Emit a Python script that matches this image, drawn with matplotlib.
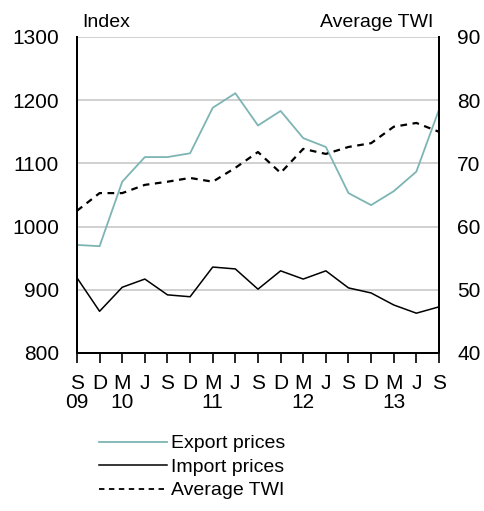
import matplotlib.pyplot as plt
from matplotlib.lines import Line2D

plt.rcParams['font.family'] = ['Liberation Sans', 'DejaVu Sans']

# Quarterly data, Sep 2009 - Sep 2013
months = ['S', 'D', 'M', 'J', 'S', 'D', 'M', 'J', 'S', 'D', 'M', 'J', 'S', 'D', 'M', 'J', 'S']
years = {0: '09', 2: '10', 6: '11', 10: '12', 14: '13'}

export_prices = [971, 969, 1071, 1110, 1110, 1116, 1188, 1211, 1160, 1183,
                 1140, 1126, 1053, 1034, 1056, 1087, 1185]
import_prices = [919, 866, 904, 917, 892, 889, 936, 933, 901, 930,
                 917, 930, 903, 895, 876, 863, 873]
average_twi = [62.5, 65.3, 65.3, 66.6, 67.1, 67.7, 67.1, 69.3, 71.8, 68.5,
               72.3, 71.5, 72.6, 73.2, 75.8, 76.4, 75.0]

teal = '#7db4b4'
fs = 15

fig = plt.figure(figsize=(4.84, 5.11), dpi=100)
ax = fig.add_axes([0.159, 0.3092, 0.748, 0.6184])
ax2 = ax.twinx()

x = list(range(len(months)))

ax.plot(x, export_prices, color=teal, lw=1.3, zorder=3)
ax.plot(x, import_prices, color='black', lw=1.1, zorder=3)
ax2.plot(x, average_twi, color='black', lw=1.6, linestyle=(0, (3, 2.5)), zorder=3)

ax.set_xlim(0, len(months) - 1)
ax.set_ylim(800, 1300)
ax2.set_ylim(40, 90)
ax.set_yticks([800, 900, 1000, 1100, 1200, 1300])
ax2.set_yticks([40, 50, 60, 70, 80, 90])

# gridlines
for v in [900, 1000, 1100, 1200, 1300]:
    ax.axhline(v, color='#c8c8c8', lw=1.2, zorder=1)

# x tick labels: month letter with year underneath
labels = [m + ('\n' + years[i] if i in years else '\n ') for i, m in enumerate(months)]
ax.set_xticks(x)
ax.set_xticklabels(labels, fontsize=fs, linespacing=1.0)
ax.tick_params(axis='x', direction='out', length=7, width=1.2, pad=8)
ax.tick_params(axis='y', length=0, labelsize=fs, pad=13)
ax2.tick_params(axis='y', length=0, labelsize=fs, pad=13)

for a in (ax, ax2):
    a.spines['top'].set_visible(False)
    for s in ['left', 'right', 'bottom']:
        a.spines[s].set_linewidth(1.4)
        a.spines[s].set_color('black')

ax.text(0.015, 1.02, 'Index', transform=ax.transAxes, fontsize=fs - 1,
        ha='left', va='bottom')
ax.text(0.985, 1.02, 'Average TWI', transform=ax.transAxes, fontsize=fs - 1,
        ha='right', va='bottom')

handles = [Line2D([], [], color=teal, lw=1.3),
           Line2D([], [], color='black', lw=1.1),
           Line2D([], [], color='black', lw=1.3, linestyle=(0, (3, 2.5)))]
fig.legend(handles, ['Export prices', 'Import prices', 'Average TWI'],
           loc='upper left', bbox_to_anchor=(0.205, 0.149), frameon=False,
           fontsize=fs - 1, handlelength=3.5, handletextpad=0.2,
           labelspacing=0.3, borderaxespad=0, borderpad=0)

fig.savefig('out.png', dpi=100)
